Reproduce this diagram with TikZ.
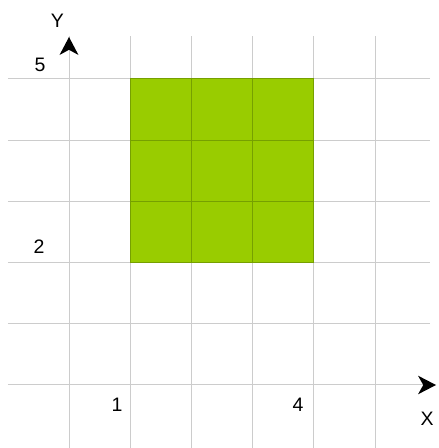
\documentclass[tikz,border=0pt]{standalone}
\usepackage{fontspec}
\setmainfont{Liberation Sans}
\definecolor{sqgreen}{RGB}{153,204,0}
\definecolor{gridgray}{RGB}{204,204,204}
\definecolor{gridgreen}{RGB}{118,160,0}
\begin{document}
\begin{tikzpicture}[x=122.4pt,y=122.4pt,
  gridline/.style={draw=gridgray,line width=2pt},
  greenline/.style={draw=gridgreen,line width=2pt},
  lbl/.style={inner sep=0pt,font=\fontsize{39}{44}\selectfont},
  tip/.style={fill=black}]
\fill[white] (-1.1275,-1.0294) rectangle (6.0294,6.2908);
\useasboundingbox (-1.1275,-1.0294) rectangle (6.0294,6.2908);
% grid
\foreach \i in {0,...,5} {
  \draw[gridline] (\i,-1.03) -- (\i,5.703);
  \draw[gridline] (-0.997,\i) -- (5.899,\i);
}
% green square
\fill[sqgreen] (1,2) rectangle (4,5);
\foreach \i in {1,...,4} {
  \draw[greenline] (\i,2) -- (\i,5);
}
\foreach \j in {2,...,5} {
  \draw[greenline] (1,\j) -- (4,\j);
}
% arrow heads
\coordinate (ytip) at (0,5.686);
\coordinate (xtip) at (5.997,0);
\fill[tip] (ytip) -- ++(-0.155,-0.294) -- ++(0.155,0.085) -- ++(0.155,-0.085) -- cycle;
\fill[tip] (xtip) -- ++(-0.294,0.152) -- ++(0.085,-0.152) -- ++(-0.085,-0.152) -- cycle;
% labels
\node[lbl] (ylab) at (-0.188,5.956) {Y};
\node[lbl] (five) at (-0.474,5.237) {5};
\node[lbl] (two) at (-0.490,2.255) {2};
\node[lbl] (one) at (0.784,-0.319) {1};
\node[lbl] (four) at (3.742,-0.327) {4};
\node[lbl] (xlab) at (5.850,-0.547) {X};
\end{tikzpicture}
\end{document}
